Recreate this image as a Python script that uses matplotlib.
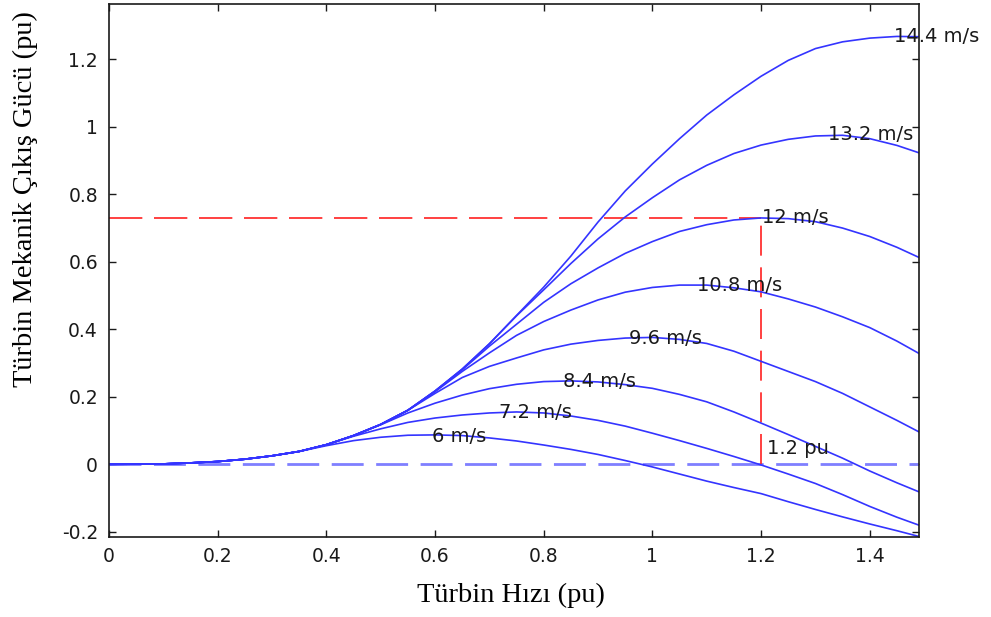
import matplotlib.pyplot as plt
from matplotlib.ticker import FormatStrFormatter

# turbine speed grid (pu) and read-off power curves (pu) per wind speed
speed = [0.00, 0.05, 0.10, 0.15, 0.20, 0.25, 0.30, 0.35, 0.40, 0.45,
         0.50, 0.55, 0.60, 0.65, 0.70, 0.75, 0.80, 0.85, 0.90, 0.95,
         1.00, 1.05, 1.10, 1.15, 1.20, 1.25, 1.30, 1.35, 1.40, 1.45, 1.50]

p_6 = [0, 0.0003, 0.001, 0.004, 0.008, 0.015, 0.025, 0.038, 0.055, 0.070,
       0.080, 0.086, 0.087, 0.085, 0.078, 0.069, 0.057, 0.044, 0.029, 0.011,
       -0.008, -0.029, -0.050, -0.069, -0.087, -0.111, -0.134, -0.156, -0.177, -0.197, -0.218]
p_72 = [0, 0.0003, 0.001, 0.004, 0.008, 0.015, 0.025, 0.038, 0.058, 0.083,
        0.105, 0.124, 0.137, 0.146, 0.152, 0.155, 0.152, 0.143, 0.130, 0.113,
        0.092, 0.070, 0.047, 0.023, -0.002, -0.029, -0.057, -0.090, -0.125, -0.157, -0.186]
p_84 = [0, 0.0003, 0.001, 0.004, 0.008, 0.015, 0.025, 0.038, 0.058, 0.085,
        0.117, 0.152, 0.181, 0.205, 0.224, 0.237, 0.245, 0.247, 0.244, 0.236,
        0.225, 0.207, 0.185, 0.155, 0.122, 0.088, 0.053, 0.018, -0.020, -0.055, -0.088]
p_96 = [0, 0.0003, 0.001, 0.004, 0.008, 0.015, 0.025, 0.038, 0.058, 0.085,
        0.118, 0.160, 0.210, 0.257, 0.290, 0.315, 0.339, 0.356, 0.367, 0.374,
        0.376, 0.370, 0.358, 0.335, 0.305, 0.275, 0.245, 0.210, 0.170, 0.130, 0.088]
p_108 = [0, 0.0003, 0.001, 0.004, 0.008, 0.015, 0.025, 0.038, 0.058, 0.085,
         0.118, 0.160, 0.215, 0.275, 0.330, 0.382, 0.423, 0.457, 0.487, 0.510,
         0.524, 0.531, 0.531, 0.523, 0.511, 0.490, 0.466, 0.437, 0.405, 0.365, 0.320]
p_12 = [0, 0.0003, 0.001, 0.004, 0.008, 0.015, 0.025, 0.038, 0.058, 0.085,
        0.118, 0.160, 0.217, 0.280, 0.350, 0.415, 0.480, 0.535, 0.582, 0.625,
        0.660, 0.690, 0.710, 0.724, 0.730, 0.728, 0.719, 0.700, 0.675, 0.643, 0.606]
p_132 = [0, 0.0003, 0.001, 0.004, 0.008, 0.015, 0.025, 0.038, 0.058, 0.085,
         0.118, 0.160, 0.217, 0.282, 0.357, 0.440, 0.517, 0.595, 0.668, 0.733,
         0.790, 0.843, 0.886, 0.921, 0.946, 0.963, 0.973, 0.975, 0.965, 0.945, 0.918]
p_144 = [0, 0.0003, 0.001, 0.004, 0.008, 0.015, 0.025, 0.038, 0.058, 0.085,
         0.118, 0.160, 0.217, 0.282, 0.357, 0.441, 0.525, 0.617, 0.718, 0.810,
         0.890, 0.965, 1.035, 1.095, 1.150, 1.197, 1.232, 1.252, 1.263, 1.268, 1.267]

curves = [p_6, p_72, p_84, p_96, p_108, p_12, p_132, p_144]
labels = ['6 m/s', '7.2 m/s', '8.4 m/s', '9.6 m/s', '10.8 m/s', '12 m/s', '13.2 m/s', '14.4 m/s']
label_pos = [(0.595, 0.083), (0.717, 0.154), (0.835, 0.246), (0.957, 0.374),
             (1.082, 0.529), (1.202, 0.730), (1.324, 0.977), (1.444, 1.268)]

rated_speed = 1.2
rated_power = 0.73


def main():
    fig = plt.figure(figsize=(9.91, 6.17), dpi=100)
    ax = fig.add_axes([0.110, 0.130, 0.817, 0.864])

    # zero line
    ax.plot([0, 1.5], [0, 0], color='#7f7fff', lw=2, linestyle=(0, (11.5, 4.5)))
    # rated point markers
    ax.plot([0, rated_speed], [rated_power, rated_power], color='#ff2020', lw=1.2,
            linestyle=(0, (20, 7)))
    ax.plot([rated_speed, rated_speed], [0, rated_power], color='#ff2020', lw=1.2,
            linestyle=(0, (18, 7)))

    for p in curves:
        ax.plot(speed, p, color='#3434ff', lw=1.2)

    for txt, (x, y) in zip(labels, label_pos):
        ax.text(x, y, txt, fontsize=14, ha='left', va='center', color='#1a1a1a')
    ax.text(1.211, 0.047, '1.2 pu', fontsize=14, ha='left', va='center', color='#1a1a1a')

    ax.set_xlim(0, 1.49)
    ax.set_ylim(-0.215, 1.365)
    ax.set_xticks([0, 0.2, 0.4, 0.6, 0.8, 1.0, 1.2, 1.4])
    ax.set_yticks([-0.2, 0, 0.2, 0.4, 0.6, 0.8, 1.0, 1.2])
    ax.xaxis.set_major_formatter(FormatStrFormatter('%g'))
    ax.yaxis.set_major_formatter(FormatStrFormatter('%g'))
    ax.tick_params(direction='in', length=5, width=1, top=True, right=True,
                   labelsize=13.5, colors='#1a1a1a')
    ax.tick_params(axis='x', pad=7)
    ax.tick_params(axis='y', pad=8)
    for s in ax.spines.values():
        s.set_linewidth(1.2)
        s.set_color('#1a1a1a')

    ax.set_xlabel('Türbin Hızı (pu)', family='Liberation Serif', fontsize=20.5)
    ax.set_ylabel('Türbin Mekanik Çıkış Gücü (pu)', family='Liberation Serif', fontsize=20.5)
    ax.xaxis.set_label_coords(0.496, -0.086)
    ax.yaxis.set_label_coords(-0.088, 0.634)

    fig.savefig('out.png', dpi=100)


if __name__ == '__main__':
    main()
